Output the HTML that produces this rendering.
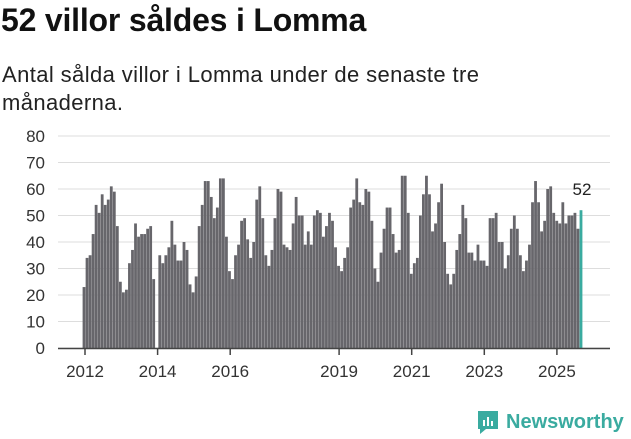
<!DOCTYPE html>
<html><head><meta charset="utf-8"><style>
body{margin:0;width:631px;height:439px;background:#fff;font-family:"Liberation Sans",sans-serif;overflow:hidden;position:relative}
#t{position:absolute;left:1px;top:2px;font-size:32px;font-weight:bold;color:#111;letter-spacing:-0.2px}
#s{position:absolute;left:2px;top:61px;font-size:22px;line-height:28px;color:#222;width:515px;letter-spacing:0.4px}
svg{position:absolute;left:0;top:0}
</style></head><body>
<div id="t">52 villor såldes i Lomma</div>
<div id="s">Antal sålda villor i Lomma under de senaste tre månaderna.</div>
<svg id="c" width="631" height="439"></svg>
<script>
const values=[23,34,35,43,54,51,58,54,56,61,59,46,25,21,22,32,37,47,42,43,43,45,46,26,0,
35,32,35,38,48,39,33,33,40,37,24,21,27,46,54,63,63,57,49,53,64,64,42,29,26,35,39,48,49,
41,34,40,56,61,49,35,31,37,49,60,59,39,38,37,47,57,50,50,39,44,39,50,52,51,42,46,51,48,38,31,29,34,38,53,56,64,55,54,60,59,48,30,25,36,45,53,53,43,36,37,65,65,51,28,32,34,
50,58,65,58,44,47,55,62,40,28,24,28,37,43,54,49,36,36,33,39,33,33,31,49,49,51,40,40,30,35,45,50,45,35,29,33,39,55,63,55,44,48,60,61,51,48,47,55,47,50,50,51,45,52];
const yTicks=[0,10,20,30,40,50,60,70,80];
const xTickYears=[2012,2014,2016,2019,2021,2023,2025];
const NS="http://www.w3.org/2000/svg",svg=document.getElementById('c');
const y=v=>348-v*(212/80);
const xi=i=>84+i*(497/(values.length-1));
const xy=yr=>85+(yr-2012)*36.3;
function mk(t,a){const e=document.createElementNS(NS,t);for(const k in a)e.setAttribute(k,a[k]);svg.appendChild(e);return e;}
yTicks.forEach(v=>{
 const g=mk('line',{x1:58,x2:610,y1:y(v),y2:y(v),stroke:'#ddd','stroke-width':1});
 
 
 const t=mk('text',{x:45,y:y(v)+6,'text-anchor':'end','font-size':17,fill:'#333','font-family':'Liberation Sans'});
 t.textContent=v;
 
 
});
values.forEach((v,i)=>{
 const last=i===values.length-1;
 const r=mk('rect',{x:xi(i)-1.4,y:y(v),width:2.8,height:348-y(v),fill:last?'#3aaba0':'#67666b'});
 
 
});
const ax=mk('line',{x1:58,x2:610,y1:348.5,y2:348.5,stroke:'#444','stroke-width':1.5});


xTickYears.forEach(yr=>{
 const l=mk('line',{x1:xy(yr),x2:xy(yr),y1:349,y2:355,stroke:'#444','stroke-width':1.5});
 
 
 const t=mk('text',{x:xy(yr),y:377,'text-anchor':'middle','font-size':17,fill:'#333','font-family':'Liberation Sans'});
 t.textContent=yr;
 
 
});
const lab=mk('text',{x:xi(values.length-1)+1,y:y(values[values.length-1])-15,'text-anchor':'middle','font-size':17,fill:'#222','font-family':'Liberation Sans'});
lab.textContent=values[values.length-1];


</script>
<div style="position:absolute;left:476px;top:409px;display:flex;align-items:center">
<svg width="24" height="26" style="position:static"><path d="M2 2h20v18H10l-6 5v-5H2z" fill="#3aaba0"/><rect x="7" y="11" width="2" height="6" fill="#fff"/><rect x="11" y="8" width="2" height="9" fill="#fff"/><rect x="15" y="12" width="2" height="5" fill="#fff"/></svg>
<span style="font-size:20px;font-weight:bold;color:#3aaba0;margin-left:6px">Newsworthy</span></div>
</body></html>
